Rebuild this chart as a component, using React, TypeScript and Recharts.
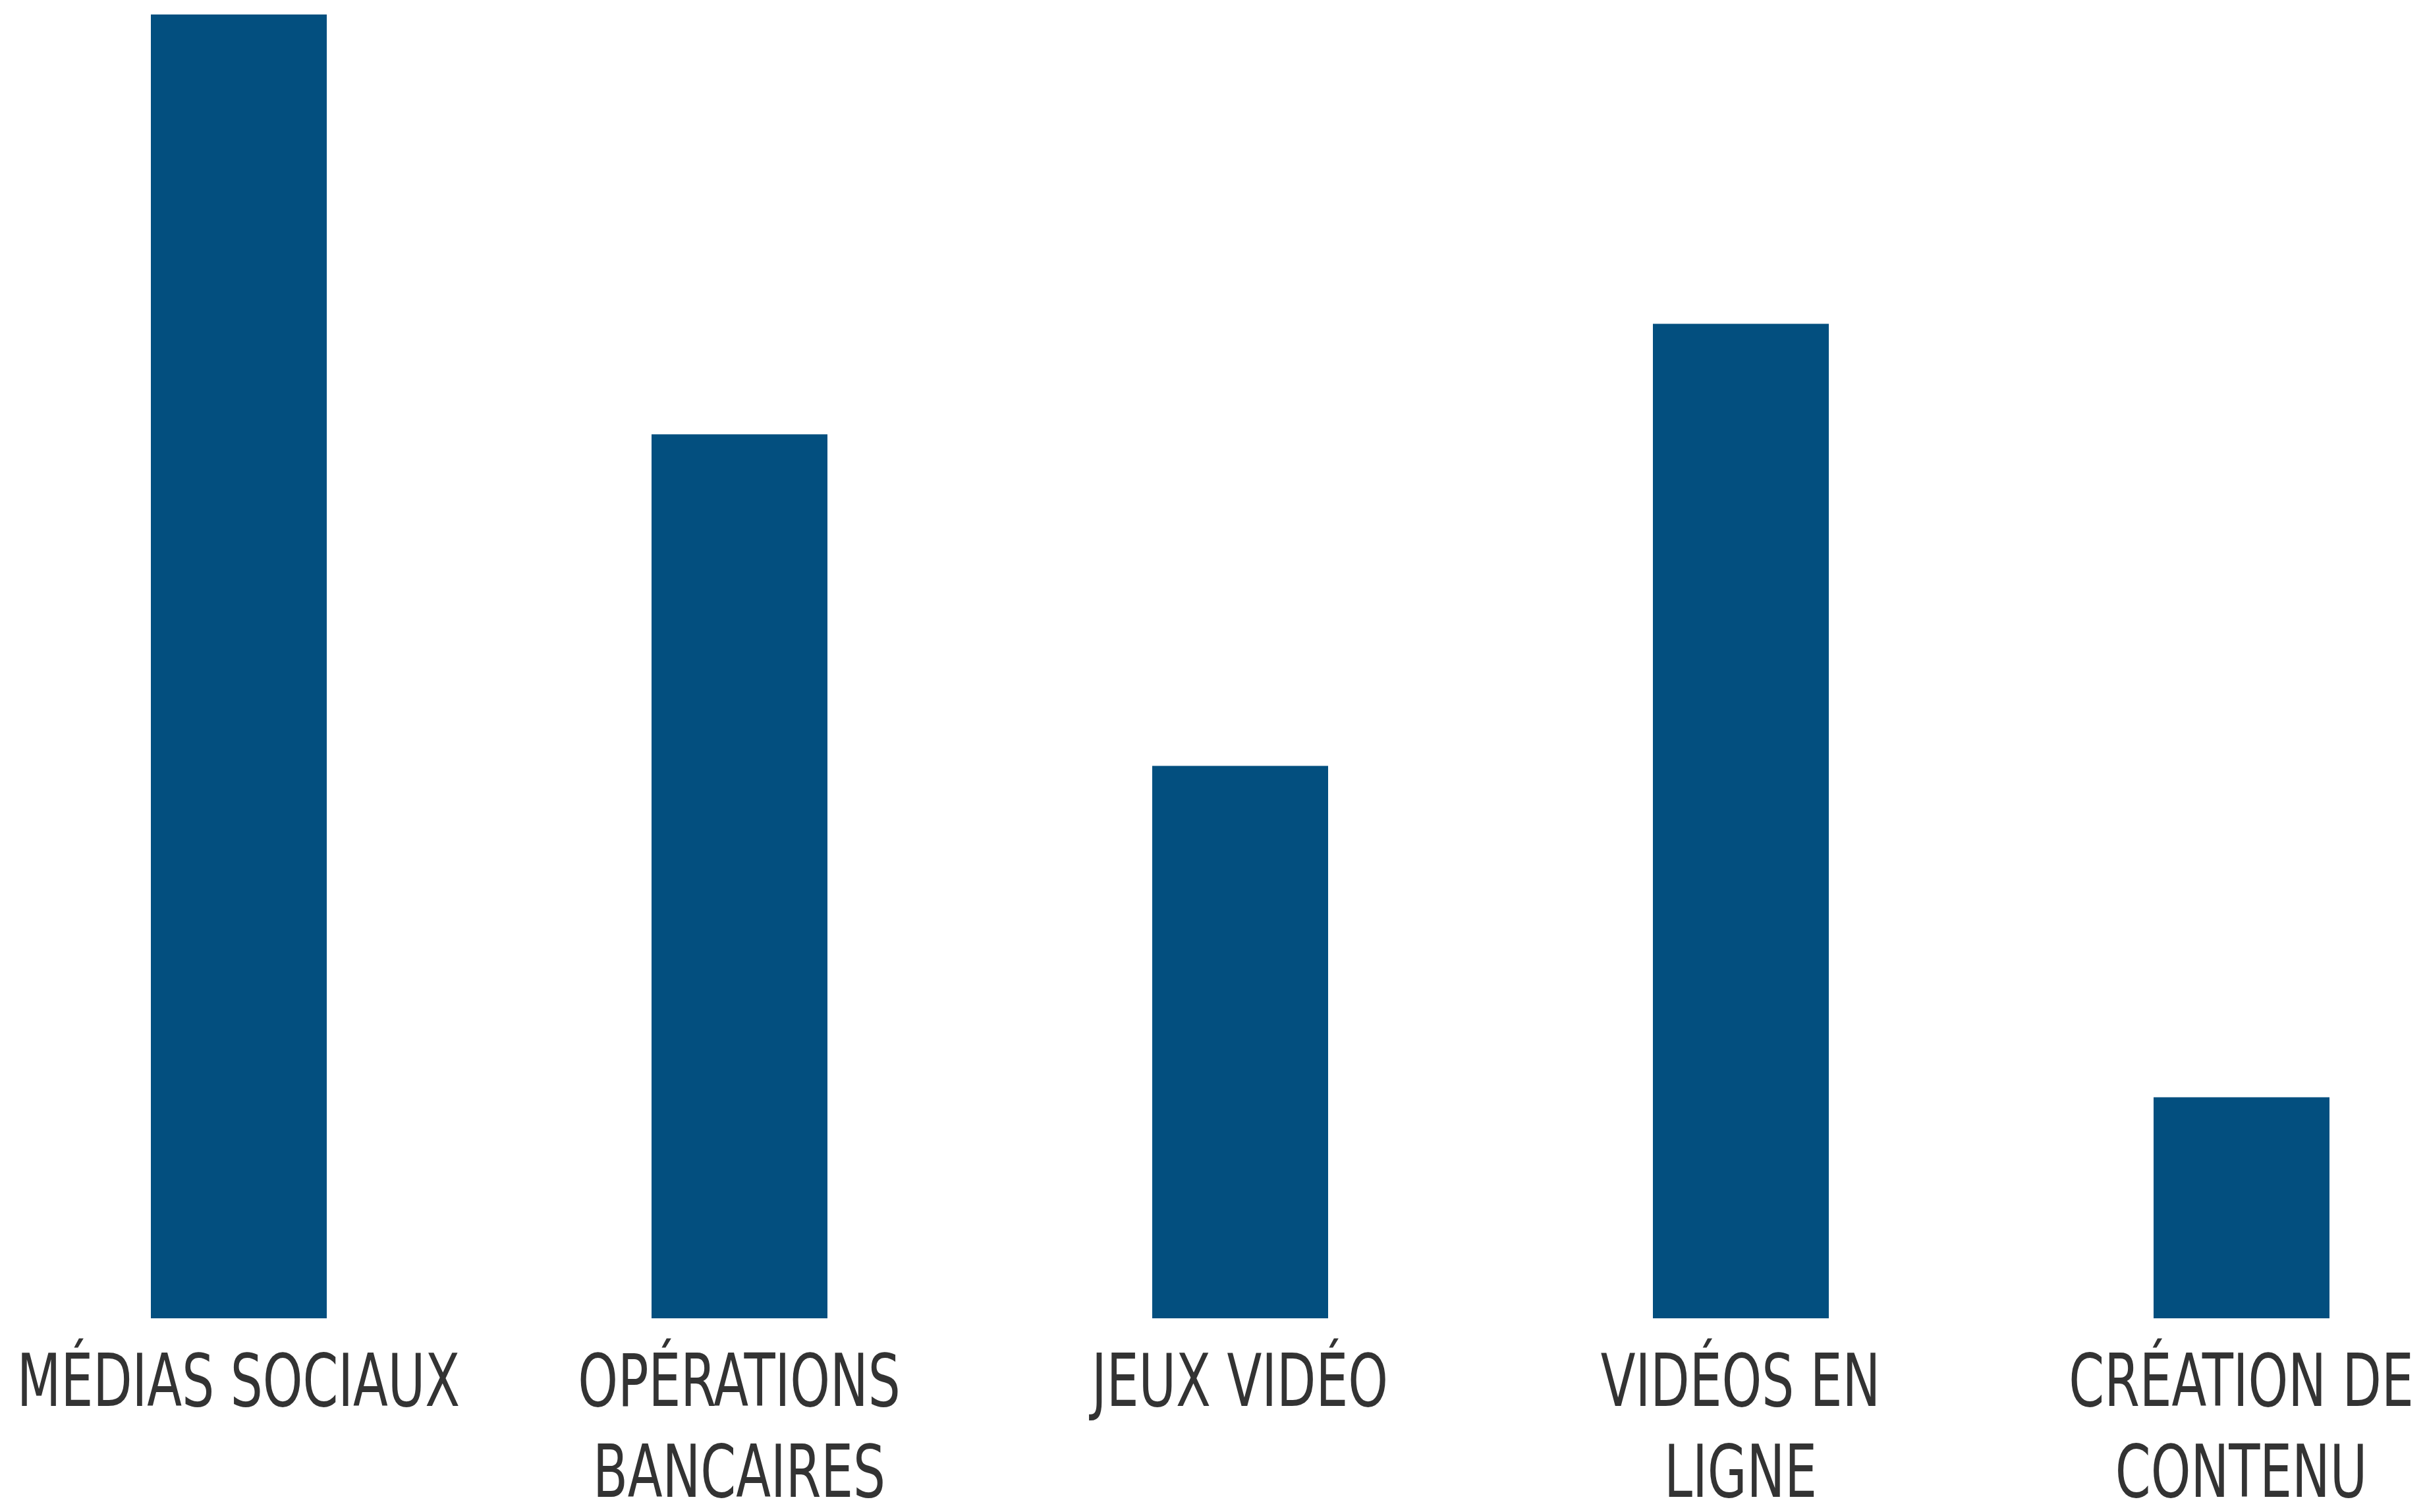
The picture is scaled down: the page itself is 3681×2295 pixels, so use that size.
import React from 'react';
import { BarChart, Bar, XAxis, YAxis } from 'recharts';

const categories = [
  'MÉDIAS SOCIAUX',
  'OPÉRATIONS\nBANCAIRES',
  'JEUX VIDÉO',
  'VIDÉOS EN\nLIGNE',
  'CRÉATION DE\nCONTENU',
];

const values = [59, 40, 25, 45, 10];

const data = categories.map((name, i) => ({ name, value: values[i] }));

const BAR_COLOR = '#034f7f';
const TEXT_COLOR = '#333333';
const FONT = "'DejaVu Sans Condensed', 'DejaVu Sans', sans-serif";

const CategoryTick = (props: any) => {
  const { x, y, payload } = props;
  const lines = String(payload.value).split('\n');
  return (
    <g transform={`translate(${x},${y})`}>
      <g transform="scale(0.78,1)">
        <text textAnchor="middle" fill={TEXT_COLOR} fontFamily={FONT} fontSize={110}>
          {lines.map((line, i) => (
            <tspan key={i} x={0} y={133 + i * 138}>
              {line}
            </tspan>
          ))}
        </text>
      </g>
    </g>
  );
};

export default function App() {
  return (
    <div
      style={{
        position: 'absolute',
        left: 0,
        top: 0,
        width: 3681,
        height: 2295,
        overflow: 'hidden',
        background: '#ffffff',
      }}
    >
      <div style={{ marginLeft: -18 }}>
        <BarChart
          width={3800}
          height={2295}
          data={data}
          margin={{ top: 22, right: 0, bottom: 0, left: 0 }}
          barSize={267}
        >
          <XAxis
            dataKey="name"
            height={294}
            axisLine={false}
            tickLine={false}
            tickSize={0}
            tickMargin={0}
            interval={0}
            tick={<CategoryTick />}
          />
          <YAxis hide domain={[0, 59]} />
          <Bar dataKey="value" fill={BAR_COLOR} isAnimationActive={false} />
        </BarChart>
      </div>
    </div>
  );
}
